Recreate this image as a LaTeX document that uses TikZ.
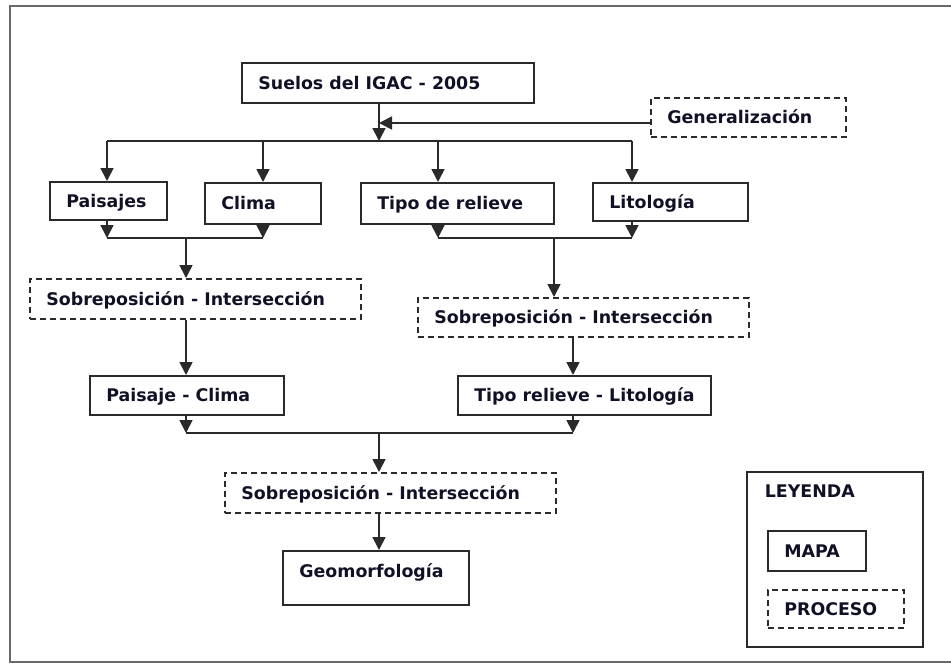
\documentclass[tikz,border=0pt]{standalone}
\usepackage{fontspec}
\setmainfont{DejaVu Sans}
\usetikzlibrary{arrows.meta}
\definecolor{boxline}{HTML}{2A2A2A}
\definecolor{txt}{HTML}{111126}
\definecolor{frame}{HTML}{6A6A6A}
\tikzset{
  bx/.style={draw=boxline, line width=1.7pt, anchor=north west, inner xsep=16.5pt, inner ysep=0pt,
    text height=14pt, text depth=1.3pt, text=txt, font=\fontsize{17.4}{20}\selectfont\bfseries},
  px/.style={bx, dash pattern=on 6pt off 4pt},
  ln/.style={draw=boxline, line width=1.7pt},
  arr/.style={ln, -{Triangle[width=13pt,length=13pt]}}
}
\begin{document}
\begin{tikzpicture}[x=1pt,y=-1pt]
\useasboundingbox (0,0) rectangle (951,665);
\clip (0,0) rectangle (951,665);
\draw[frame, line width=2pt] (10,6) rectangle (962,662);

% nodes
\node[bx, minimum height=40pt] (suelos) at (241,62) {\makebox[259pt][l]{Suelos del IGAC - 2005}};
\node[px, minimum height=39pt] (gen) at (650,97) {\makebox[162pt][l]{Generalización}};
\node[bx, minimum height=38pt] (pais) at (49,181) {\makebox[84pt][l]{Paisajes}};
\node[bx, minimum height=41pt] (clima) at (204,182) {\makebox[83pt][l]{Clima}};
\node[bx, minimum height=41pt] (tipo) at (360,182) {\makebox[160pt][l]{Tipo de relieve}};
\node[bx, minimum height=38pt] (lito) at (592,182) {\makebox[122pt][l]{Litología}};
\node[px, minimum height=40pt] (sob1) at (29,278) {\makebox[298pt][l]{Sobreposición - Intersección}};
\node[px, minimum height=39pt] (sob2) at (417,297) {\makebox[298pt][l]{Sobreposición - Intersección}};
\node[bx, minimum height=39pt] (pc) at (89,375) {\makebox[161pt][l]{Paisaje - Clima}};
\node[bx, minimum height=39pt] (trl) at (457,375) {\makebox[220pt][l]{Tipo relieve - Litología}};
\node[px, minimum height=40pt] (sob3) at (224,472) {\makebox[298pt][l]{Sobreposición - Intersección}};
\node[bx, minimum height=54pt, text depth=15pt] (geo) at (282,550) {\makebox[153pt][l]{Geomorfología}};

% legend
\draw[ln] (747,472) rectangle (923,647);
\node[bx, draw=none, anchor=west, inner xsep=0pt] (ley) at (764,491) {LEYENDA};
\node[bx, minimum height=40pt] (mapa) at (767,530) {\makebox[65pt][l]{MAPA}};
\node[px, minimum height=38pt] (proc) at (767,589) {\makebox[103pt][l]{PROCESO}};

% connectors: level 1
\coordinate (j1) at (379,141);
\coordinate (g) at (379,123);
\coordinate (bl) at (107,141);
\coordinate (b2) at (263,141);
\coordinate (b3) at (438,141);
\coordinate (br) at (632,141);
\draw[ln] (bl) -- (br);
\draw[arr] (suelos.south -| j1) -- (j1);
\draw[arr] (gen.west |- g) -- (g);
\draw[arr] (bl) -- (bl |- pais.north);
\draw[arr] (b2) -- (b2 |- clima.north);
\draw[arr] (b3) -- (b3 |- tipo.north);
\draw[arr] (br) -- (br |- lito.north);

% level 2 left
\coordinate (l1) at (107,238);
\coordinate (l2) at (263,238);
\coordinate (lm) at (186,238);
\draw[arr] (pais.south -| l1) -- (l1);
\draw[arr] (clima.south -| l2) -- (l2);
\draw[ln] (l1) -- (l2);
\draw[arr] (lm) -- (lm |- sob1.north);
\draw[arr] (sob1.south -| lm) -- (lm |- pc.north);

% level 2 right
\coordinate (r1) at (438,238);
\coordinate (r2) at (632,238);
\coordinate (rm) at (554,238);
\coordinate (rm2) at (573,336);
\draw[arr] (tipo.south -| r1) -- (r1);
\draw[arr] (lito.south -| r2) -- (r2);
\draw[ln] (r1) -- (r2);
\draw[arr] (rm) -- (rm |- sob2.north);
\draw[arr] (sob2.south -| rm2) -- (rm2 |- trl.north);

% level 3
\coordinate (p1) at (186,433);
\coordinate (p2) at (573,433);
\coordinate (pm) at (379,433);
\draw[arr] (pc.south -| p1) -- (p1);
\draw[arr] (trl.south -| p2) -- (p2);
\draw[ln] (p1) -- (p2);
\draw[arr] (pm) -- (pm |- sob3.north);
\draw[arr] (sob3.south -| pm) -- (pm |- geo.north);
\end{tikzpicture}
\end{document}
